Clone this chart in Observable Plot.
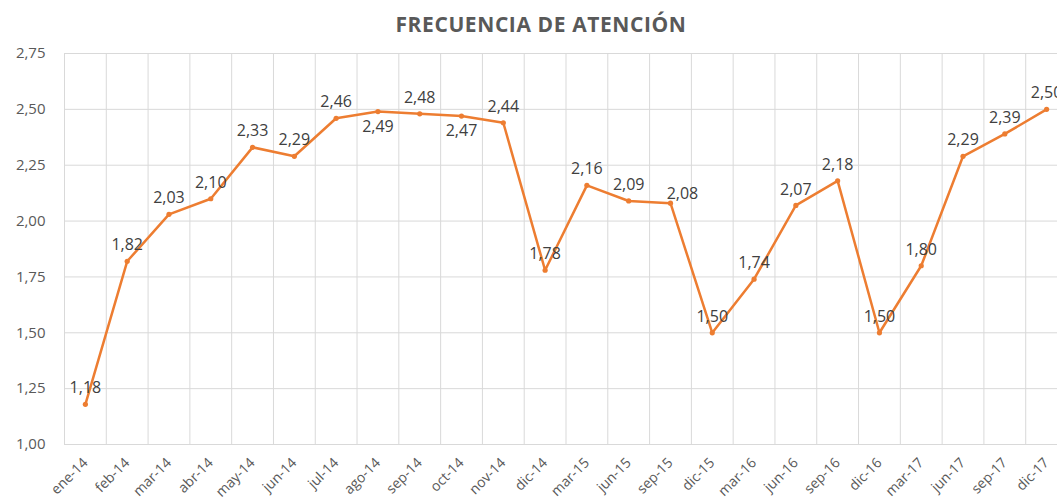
<!DOCTYPE html>
<html><head><meta charset="utf-8">
<script src="https://cdn.jsdelivr.net/npm/d3@7"></script>
<script src="https://cdn.jsdelivr.net/npm/@observablehq/plot@0.6"></script>
<style>
body{margin:0;background:#fff;font-family:"Open Sans",sans-serif;}
#title{position:relative;height:40px;width:1057px;}
#title span{position:absolute;left:541px;top:24px;transform:translate(-50%,-50%);font-weight:bold;font-size:21px;letter-spacing:0.6px;color:#595959;white-space:nowrap;}
#chart svg{display:block;overflow:hidden;}
</style></head><body>
<div id="title"><span>FRECUENCIA DE ATENCIÓN</span></div>
<div id="chart"></div>
<script>
const categories = ["ene-14","feb-14","mar-14","abr-14","may-14","jun-14","jul-14","ago-14","sep-14","oct-14","nov-14","dic-14","mar-15","jun-15","sep-15","dic-15","mar-16","jun-16","sep-16","dic-16","mar-17","jun-17","sep-17","dic-17"];
const values = [1.18,1.82,2.03,2.10,2.33,2.29,2.46,2.49,2.48,2.47,2.44,1.78,2.16,2.09,2.08,1.50,1.74,2.07,2.18,1.50,1.80,2.29,2.39,2.50];
const yTicks = [1.00,1.25,1.50,1.75,2.00,2.25,2.50,2.75];

// label placement (style)
const labelBelow = new Set(["ago-14","oct-14"]);
const labelRight = new Set(["sep-15"]);

const data = categories.map((c,i)=>({i, c, v: values[i]}));
const comma = v => v.toFixed(2).replace(".", ",");
const orange = "#ED7D31";
const n = categories.length;

const chart = Plot.plot({
  width: 1057, height: 462,
  marginLeft: 64, marginRight: 0, marginTop: 13, marginBottom: 58,
  style: {fontFamily: "'Open Sans', sans-serif", background: "white", overflow: "hidden"},
  x: {domain: [-0.5, n - 0.5], range: [64, 1067]},
  y: {domain: [1, 2.75]},
  marks: [
    Plot.gridY(yTicks, {stroke: "#d9d9d9", strokeOpacity: 1, strokeWidth: 1}),
    Plot.gridX(d3.range(-0.5, n, 1), {stroke: "#d9d9d9", strokeOpacity: 1, strokeWidth: 1}),
    Plot.axisY(yTicks, {tickSize: 0, tickPadding: 19, tickFormat: comma, fontSize: 15, color: "#595959", label: null}),
    Plot.axisX(d3.range(n), {tickFormat: i => categories[i], tickRotate: -45, tickSize: 0, tickPadding: 16, fontSize: 14, color: "#595959", label: null}),
    Plot.line(data, {x: "i", y: "v", stroke: orange, strokeWidth: 2.5}),
    Plot.dot(data, {x: "i", y: "v", r: 2.6, fill: orange, stroke: null}),
    Plot.text(data.filter(d => !labelBelow.has(d.c) && !labelRight.has(d.c)), {x: "i", y: "v", text: d => comma(d.v), dy: -16, fontSize: 16, fill: "#404040"}),
    Plot.text(data.filter(d => labelBelow.has(d.c)), {x: "i", y: "v", text: d => comma(d.v), dy: 15, fontSize: 16, fill: "#404040"}),
    Plot.text(data.filter(d => labelRight.has(d.c)), {x: "i", y: "v", text: d => comma(d.v), dy: -9, dx: 12, fontSize: 16, fill: "#404040"})
  ]
});
document.getElementById("chart").appendChild(chart);
</script>
</body></html>
